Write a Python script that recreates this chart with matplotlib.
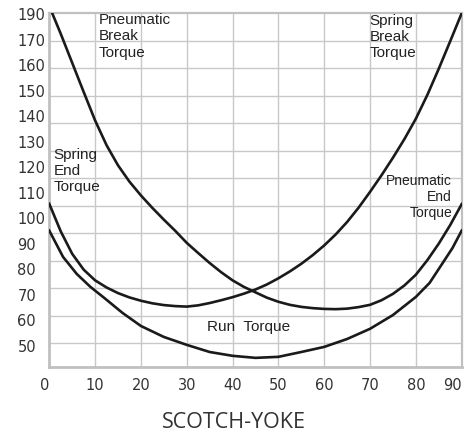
import numpy as np
import matplotlib.pyplot as plt

# x axis: stroke angle (deg)
x_ticks = [0, 10, 20, 30, 40, 50, 60, 70, 80, 90]
# y labels sit evenly on the page (the top one is printed as 190, not 180)
y_ticks = [50, 60, 70, 80, 90, 100, 110, 120, 130, 140, 150, 160, 170, 180]
y_labels = ['50', '60', '70', '80', '90', '100', '110', '120', '130', '140',
            '150', '160', '170', '190']

# pneumatic torque (break at 0, end at 90)
pneu_x = [0.7, 2.5, 5, 7.5, 10, 12.5, 15, 17.5, 20, 22.5, 25, 27.5, 30, 32.5, 35,
          37.5, 40, 42.5, 45, 47.5, 50, 52.5, 55, 57.5, 60, 62.5, 65, 67.5, 70,
          72.5, 75, 77.5, 80, 82.5, 85, 87.5, 90]
pneu_y = [180.1, 172.3, 160.9, 149.5, 138.3, 128.6, 120.7, 114.3, 108.9, 104.0,
          99.4, 95.0, 90.3, 86.3, 82.4, 78.8, 75.6, 73.0, 70.9, 68.8, 67.2, 66.0,
          65.2, 64.7, 64.4, 64.3, 64.5, 65.1, 66.0, 67.8, 70.3, 73.6, 77.8, 83.5,
          90.0, 97.3, 105.5]

# spring torque (end at 0, break at 90)
spring_x = [0, 2.5, 5, 7.5, 10, 12.5, 15, 17.5, 20, 22.5, 25, 27.5, 30, 32.5, 35,
            37.5, 40, 42.5, 45, 47.5, 50, 52.5, 55, 57.5, 60, 62.5, 65, 67.5, 70,
            72.5, 75, 77.5, 80, 82.5, 85, 87.5, 90]
spring_y = [105.6, 94.8, 86.0, 79.8, 75.6, 72.8, 70.6, 68.9, 67.6, 66.6, 65.9,
            65.5, 65.3, 65.8, 66.7, 67.8, 69.0, 70.4, 72.0, 74.0, 76.4, 79.1, 82.1,
            85.5, 89.3, 93.6, 98.5, 104.1, 110.3, 116.8, 123.7, 131.0, 139.0,
            148.3, 158.6, 169.4, 180.35]

# run torque
run_x = [0, 3, 6, 9, 12, 16, 20, 25, 30, 35, 40, 45, 50, 55, 60, 65, 70, 75,
         80, 83, 86, 88, 90]
run_y = [95.1, 84.8, 78.1, 73.0, 68.7, 62.8, 57.7, 53.4, 50.3, 47.5, 46.0, 45.2,
         45.6, 47.5, 49.5, 52.6, 56.6, 62.0, 69.1, 74.6, 82.8, 88.3, 95.1]

fig = plt.figure(figsize=(4.74, 4.34), dpi=100)
ax = fig.add_axes([0.104, 0.1537, 0.870, 0.8157])

for xs, ys in [(pneu_x, pneu_y), (spring_x, spring_y), (run_x, run_y)]:
    ax.plot(xs, ys, color='#1a1a1a', lw=1.9, solid_joinstyle='round', zorder=3)

ax.set_xlim(0, 90)
ax.set_ylim(41.5, 180.35)

# grid lines don't line up with the printed labels in the original
ax.set_yticks(y_ticks)
ax.set_yticklabels(y_labels)
ax.set_yticks(np.linspace(50.9, 169.6, 12), minor=True)
ax.set_xticks(x_ticks)
ax.set_xticklabels([str(t) for t in x_ticks])

ax.grid(which='minor', axis='y', color='#c8c8c8', lw=1.0)
ax.grid(which='major', axis='x', color='#c8c8c8', lw=1.0)
ax.tick_params(which='both', length=0)
ax.tick_params(axis='y', pad=23, labelsize=10.5, labelcolor='#333333')
ax.tick_params(axis='x', pad=8, labelsize=10.5, labelcolor='#333333')
for lab in ax.get_yticklabels():
    lab.set_horizontalalignment('left')
xl = ax.get_xticklabels()
xl[0].set_horizontalalignment('right')
xl[-1].set_horizontalalignment('right')

for side in ['left', 'bottom', 'right', 'top']:
    ax.spines[side].set_color('#c0c0c0')
    ax.spines[side].set_linewidth(1.6)
ax.spines['left'].set_linewidth(2)
ax.spines['bottom'].set_linewidth(2)

lbl = dict(family='Liberation Sans', fontsize=11, color='#222222', va='top')
ax.text(10.7, 180.4, 'Pneumatic\nBreak\nTorque', **lbl)
ax.text(69.9, 180.2, 'Spring\nBreak\nTorque', **lbl)
ax.text(0.9, 127.5, 'Spring\nEnd\nTorque', **lbl)
ax.text(87.9, 117.5, 'Pneumatic\nEnd\nTorque', ha='right', multialignment='right',
        family='Liberation Sans', fontsize=10, color='#222222', va='top')
ax.text(34.4, 57.3, 'Run  Torque', family='Liberation Sans', fontsize=11,
        color='#222222', va='center')

fig.text(0.4926, 0.0138, 'SCOTCH-YOKE', family='Open Sans', fontsize=15.5,
         color='#333333', ha='center', va='baseline')

fig.savefig('out.png', dpi=100)
